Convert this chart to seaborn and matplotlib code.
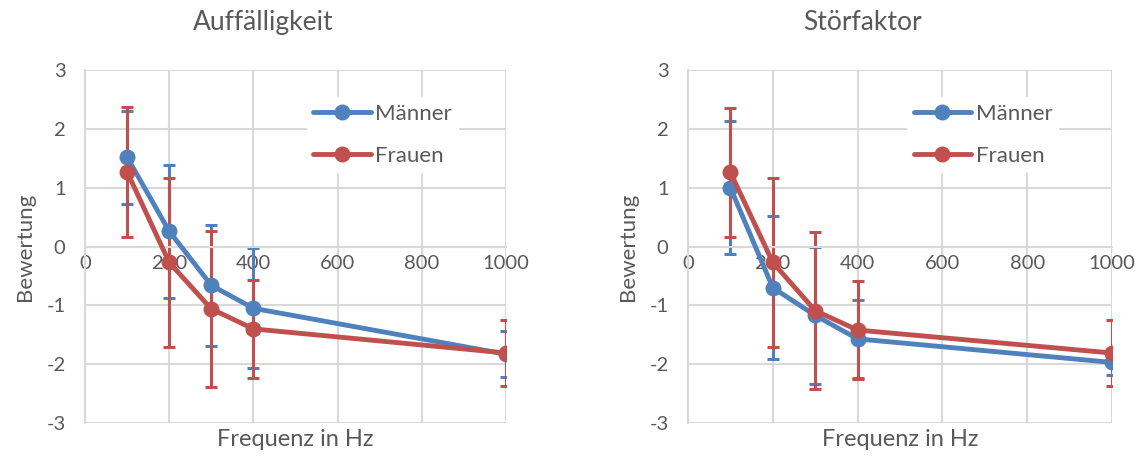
import matplotlib
matplotlib.use("Agg")
import matplotlib.pyplot as plt
import seaborn as sns
import pandas as pd
import numpy as np

# Frequencies tested (Hz)
freq = [100, 200, 300, 400, 1000]

# Auffälligkeit: mean rating and standard deviation
auff_maenner = [1.52, 0.26, -0.66, -1.05, -1.83]
auff_maenner_sd = [0.79, 1.13, 1.03, 1.02, 0.39]
auff_frauen = [1.27, -0.27, -1.06, -1.40, -1.81]
auff_frauen_sd = [1.10, 1.43, 1.33, 0.83, 0.56]

# Störfaktor: mean rating and standard deviation
stoer_maenner = [1.00, -0.70, -1.17, -1.57, -1.97]
stoer_maenner_sd = [1.13, 1.22, 1.17, 0.66, 0.21]
stoer_frauen = [1.26, -0.27, -1.09, -1.42, -1.81]
stoer_frauen_sd = [1.10, 1.43, 1.33, 0.83, 0.56]

titles = ["Auffälligkeit", "Störfaktor"]
groups = ["Männer", "Frauen"]
xlabel = "Frequenz in Hz"
ylabel = "Bewertung"

BLUE = "#4F81BD"
RED = "#C0504D"
GRID = "#D9D9D9"
TEXT = "#595959"

sns.set_theme(style="white")
plt.rcParams["font.family"] = ["Lato", "DejaVu Sans"]
plt.rcParams["axes.unicode_minus"] = False

fig = plt.figure(figsize=(11.44, 4.59), dpi=100)
ax_pos = [[0.0743, 0.0784, 0.368, 0.769], [0.6014, 0.0784, 0.3706, 0.769]]

panels = [
    (auff_maenner, auff_maenner_sd, auff_frauen, auff_frauen_sd),
    (stoer_maenner, stoer_maenner_sd, stoer_frauen, stoer_frauen_sd),
]
title_x = [263 / 1144, 862 / 1144]
legend_anchor = [(0.50, 0.955), (0.49, 0.955)]

for i, (m, msd, f, fsd) in enumerate(panels):
    ax = fig.add_axes(ax_pos[i])
    df = pd.DataFrame({
        "Frequenz": freq * 2,
        "Bewertung": m + f,
        "Gruppe": [groups[0]] * len(freq) + [groups[1]] * len(freq),
    })
    # error bars underneath the lines
    for vals, sd, col in [(m, msd, BLUE), (f, fsd, RED)]:
        ax.errorbar(freq, vals, yerr=sd, fmt="none", ecolor=col, elinewidth=2.2,
                    capsize=4.5, capthick=2.2, zorder=2)
    sns.lineplot(data=df, x="Frequenz", y="Bewertung", hue="Gruppe",
                 palette=[BLUE, RED], marker="o", markersize=11.5, linewidth=3.5,
                 markeredgewidth=0, ax=ax, zorder=3, legend=True)

    ax.set_xlim(0, 1000)
    ax.set_ylim(-3, 3)
    ax.set_xticks(range(0, 1001, 200))
    ax.set_yticks(range(-3, 4))
    ax.grid(True, color=GRID, linewidth=1.5)
    ax.set_axisbelow(True)
    for s in ["top", "right"]:
        ax.spines[s].set_visible(False)
    ax.spines["bottom"].set_position(("data", 0))
    ax.spines["bottom"].set_color(GRID)
    ax.spines["bottom"].set_linewidth(1.5)
    ax.spines["left"].set_color(GRID)
    ax.spines["left"].set_linewidth(1.5)
    ax.tick_params(axis="both", length=0, labelsize=14.5, labelcolor=TEXT)
    ax.tick_params(axis="y", pad=14)
    ax.tick_params(axis="x", pad=6)
    ax.set_xlabel("")
    ax.set_ylabel(ylabel, fontsize=16, color=TEXT, labelpad=8)
    fig.text((ax_pos[i][0] + ax_pos[i][2] / 2), 0.042, xlabel, ha="center",
             va="center", fontsize=17, color=TEXT)
    fig.text(title_x[i], 0.952, titles[i], ha="center", va="center",
             fontsize=19, color=TEXT)

    handles, labels = ax.get_legend_handles_labels()
    leg = ax.legend(handles, labels, loc="upper left",
                    bbox_to_anchor=legend_anchor[i], frameon=True, fontsize=16,
                    handlelength=2.6, labelspacing=1.0, handletextpad=0.2,
                    borderpad=0.3)
    leg.get_frame().set_facecolor("white")
    leg.get_frame().set_edgecolor("none")
    leg.get_frame().set_alpha(1)
    for t in leg.get_texts():
        t.set_color(TEXT)

fig.savefig("out.png", dpi=100, facecolor="white")
